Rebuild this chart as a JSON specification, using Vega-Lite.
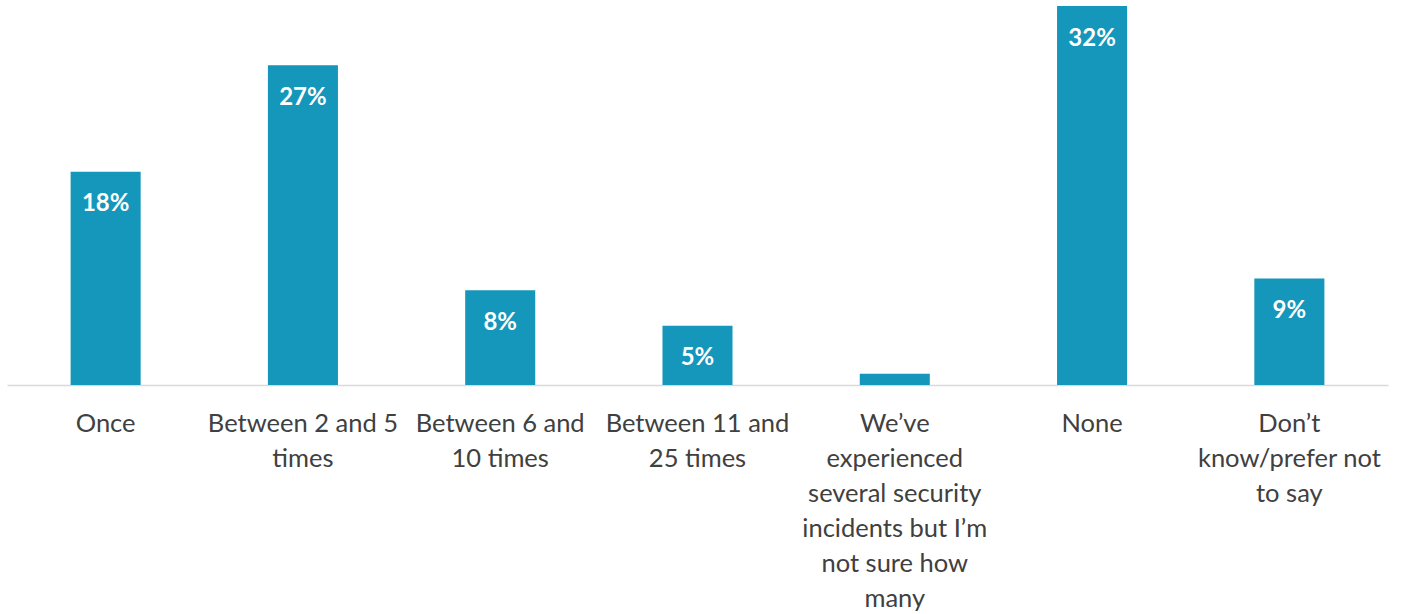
{
  "$schema": "https://vega.github.io/schema/vega-lite/v6.json",
  "width": 1381,
  "height": 379,
  "autosize": {"type": "none"},
  "padding": {"left": 7, "top": 6, "right": 14, "bottom": 229},
  "background": "white",
  "data": {
    "values": [
      {"cat": "Once", "value": 18, "label": "18%"},
      {"cat": "Between 2 and 5|times", "value": 27, "label": "27%"},
      {"cat": "Between 6 and|10 times", "value": 8, "label": "8%"},
      {"cat": "Between 11 and|25 times", "value": 5, "label": "5%"},
      {"cat": "We’ve|experienced|several security|incidents but I’m|not sure how|many", "value": 0.95, "label": ""},
      {"cat": "None", "value": 32, "label": "32%"},
      {"cat": "Don’t|know/prefer not|to say", "value": 9, "label": "9%"}
    ]
  },
  "encoding": {
    "x": {
      "field": "cat",
      "type": "nominal",
      "sort": null,
      "scale": {"paddingInner": 0.645, "paddingOuter": 0.3225},
      "axis": {
        "title": null,
        "labelAngle": 0,
        "labelExpr": "split(datum.value, '|')",
        "labelFont": "Lato",
        "labelFontSize": 25.5,
        "labelColor": "#404040",
        "labelLineHeight": 35,
        "labelPadding": 26,
        "labelLimit": 300,
        "ticks": false,
        "domainColor": "#d9d9d9",
        "domainWidth": 1.5
      }
    },
    "y": {
      "field": "value",
      "type": "quantitative",
      "scale": {"domain": [0, 32], "nice": false},
      "axis": null
    }
  },
  "layer": [
    {"mark": {"type": "bar", "color": "#1596bb"}},
    {
      "mark": {"type": "text", "color": "white", "font": "Lato", "fontWeight": "bold", "fontSize": 24, "baseline": "middle", "dy": 32.5},
      "encoding": {"text": {"field": "label"}}
    }
  ],
  "config": {"view": {"stroke": null}}
}
